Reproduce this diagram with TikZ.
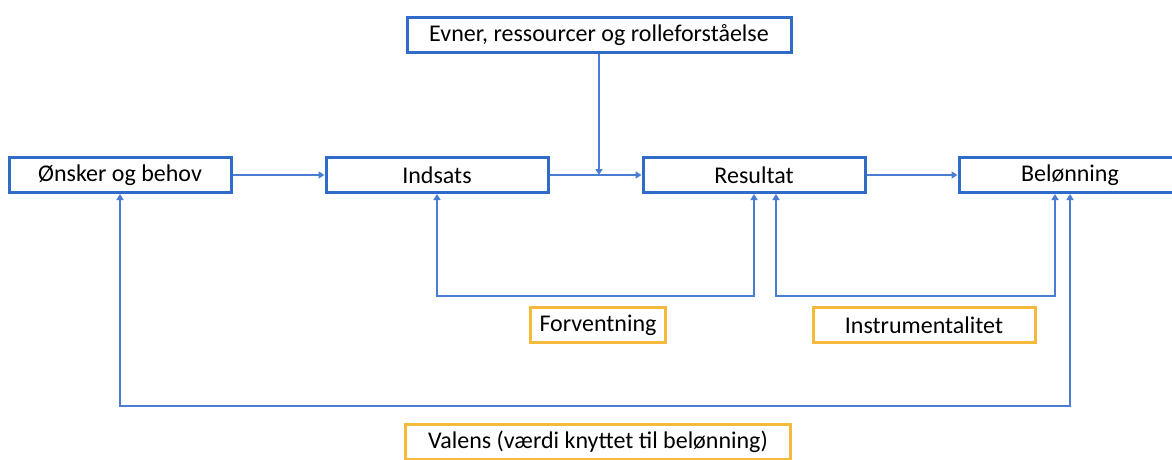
\documentclass[tikz,border=0pt]{standalone}
\usepackage{fontspec}
\setmainfont{Carlito}
\usepackage{tikz}
\usetikzlibrary{calc,arrows.meta}
\definecolor{boxblue}{HTML}{2F6BC8}
\definecolor{lineblue}{HTML}{4A7CD2}
\definecolor{tagorange}{HTML}{F5B93C}
\tikzset{
    box/.style={draw=boxblue,line width=3pt,minimum width=222pt,minimum height=35pt,inner sep=0pt,font=\fontsize{24}{28}\selectfont},
    tag/.style={draw=tagorange,line width=3pt,minimum height=35pt,inner sep=0pt,font=\fontsize{24}{28}\selectfont},
    link/.style={draw=lineblue,line width=1.5pt,-{Triangle[width=7pt,length=6pt]}},
    twoway/.style={link,{Triangle[width=7pt,length=6pt]}-{Triangle[width=7pt,length=6pt]}}
}

\begin{document}
\begin{tikzpicture}[x=1pt,y=-1pt]
                \useasboundingbox (0,0) rectangle (1172,460);
                \node[box] (onsker) at (120,175) {Ønsker og behov};
                \node[box] (indsats) at (437,175) {Indsats};
                \node[box] (resultat) at (754,175) {Resultat};
                \node[box] (beloen) at (1070,175) {Belønning};
                \node[box,minimum width=384pt] (evner) at (599,35) {Evner, ressourcer og rolleforståelse};
                \node[tag,minimum width=135pt] (forv) at (598,325) {Forventning};
                \node[tag,minimum width=222pt] (instr) at (924,325) {Instrumentalitet};
                \node[tag,minimum width=385pt] (valens) at (598,442) {Valens (værdi knyttet til belønning)};
                \coordinate (join) at (evner.south |- indsats.east);
                \draw[link] (onsker) -- (indsats);
                \draw[link] (indsats) -- (resultat);
                \draw[link] (resultat) -- (beloen);
                \draw[link] (evner) -- (join);
                \draw[twoway] (indsats.south) |- ([yshift=-102pt]resultat.south) -- (resultat.south);
                \draw[twoway] ([xshift=22pt]resultat.south) |- ([xshift=-15pt,yshift=-102pt]beloen.south) -- ([xshift=-15pt]beloen.south);
                \draw[twoway] (onsker.south) |- ([yshift=-212pt]beloen.south) -- (beloen.south);
            \end{tikzpicture}
\end{document}
